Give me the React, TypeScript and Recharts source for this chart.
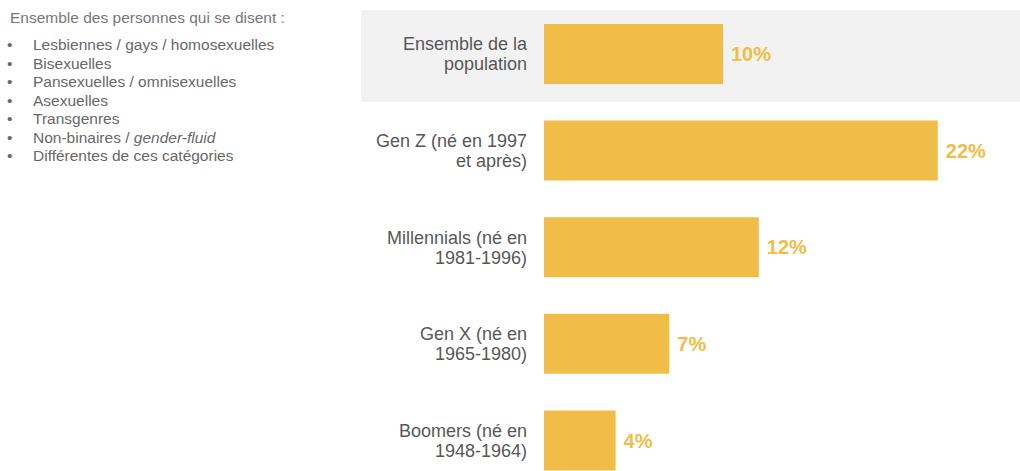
import { BarChart, Bar, XAxis, YAxis, LabelList } from 'recharts';

const categories = [
  'Ensemble de la\npopulation',
  'Gen Z (né en 1997\net après)',
  'Millennials (né en\n1981-1996)',
  'Gen X (né en\n1965-1980)',
  'Boomers (né en\n1948-1964)',
];
const shares = [10, 22, 12, 7, 4];

const noteTitle = 'Ensemble des personnes qui se disent :';
const noteItems = [
  'Lesbiennes / gays / homosexuelles',
  'Bisexuelles',
  'Pansexuelles / omnisexuelles',
  'Asexuelles',
  'Transgenres',
  'Non-binaires / ',
  'Différentes de ces catégories',
];

const data = categories.map((name, i) => ({ name, value: shares[i] }));

const FONT = '"Liberation Sans", Arial, Helvetica, sans-serif';
const BAR = '#F0BD48';

const CategoryTick = ({ x, y, payload }: any) => {
  const lines = String(payload.value).split('\n');
  return (
    <text x={x} y={y} textAnchor="end" fill="#575757" fontSize={18} fontFamily={FONT}>
      {lines.map((line, i) => (
        <tspan key={i} x={x} dy={i === 0 ? -4 : 20}>
          {line}
        </tspan>
      ))}
    </text>
  );
};

export default function App() {
  return (
    <div
      style={{
        position: 'absolute',
        left: 0,
        top: 0,
        width: 1020,
        height: 471,
        overflow: 'hidden',
        background: '#fff',
        fontFamily: FONT,
      }}
    >
      {/* highlight band behind the first row */}
      <div style={{ position: 'absolute', left: 361, top: 10, width: 659, height: 92, background: '#F2F2F2' }} />

      <div style={{ position: 'absolute', left: 10, top: 9, fontSize: 15.5, color: '#777', lineHeight: '18px' }}>
        {noteTitle}
      </div>
      <div style={{ position: 'absolute', left: 0, top: 36, fontSize: 15.5, color: '#686868', lineHeight: '18.5px' }}>
        {noteItems.map((item, i) => (
          <div key={i} style={{ position: 'relative', paddingLeft: 33, whiteSpace: 'nowrap' }}>
            <span style={{ position: 'absolute', left: 7 }}>•</span>
            {item}
            {i === 5 && <i>gender-fluid</i>}
          </div>
        ))}
      </div>

      <div style={{ position: 'absolute', left: 0, top: 0 }}>
        <BarChart
          width={1020}
          height={500}
          data={data}
          layout="vertical"
          margin={{ top: 6, right: 28.5, bottom: 11, left: 0 }}
        >
          <XAxis type="number" domain={[0, 25]} hide />
          <YAxis
            type="category"
            dataKey="name"
            width={544}
            axisLine={false}
            tickLine={false}
            tickSize={0}
            tickMargin={17}
            tick={<CategoryTick />}
            interval={0}
          />
          <Bar dataKey="value" fill={BAR} barSize={60} isAnimationActive={false}>
            <LabelList
              dataKey="value"
              position="right"
              offset={8}
              formatter={(v: any) => `${v}%`}
              fill={BAR}
              fontSize={20}
              fontWeight="bold"
              fontFamily={FONT}
            />
          </Bar>
        </BarChart>
      </div>
    </div>
  );
}
